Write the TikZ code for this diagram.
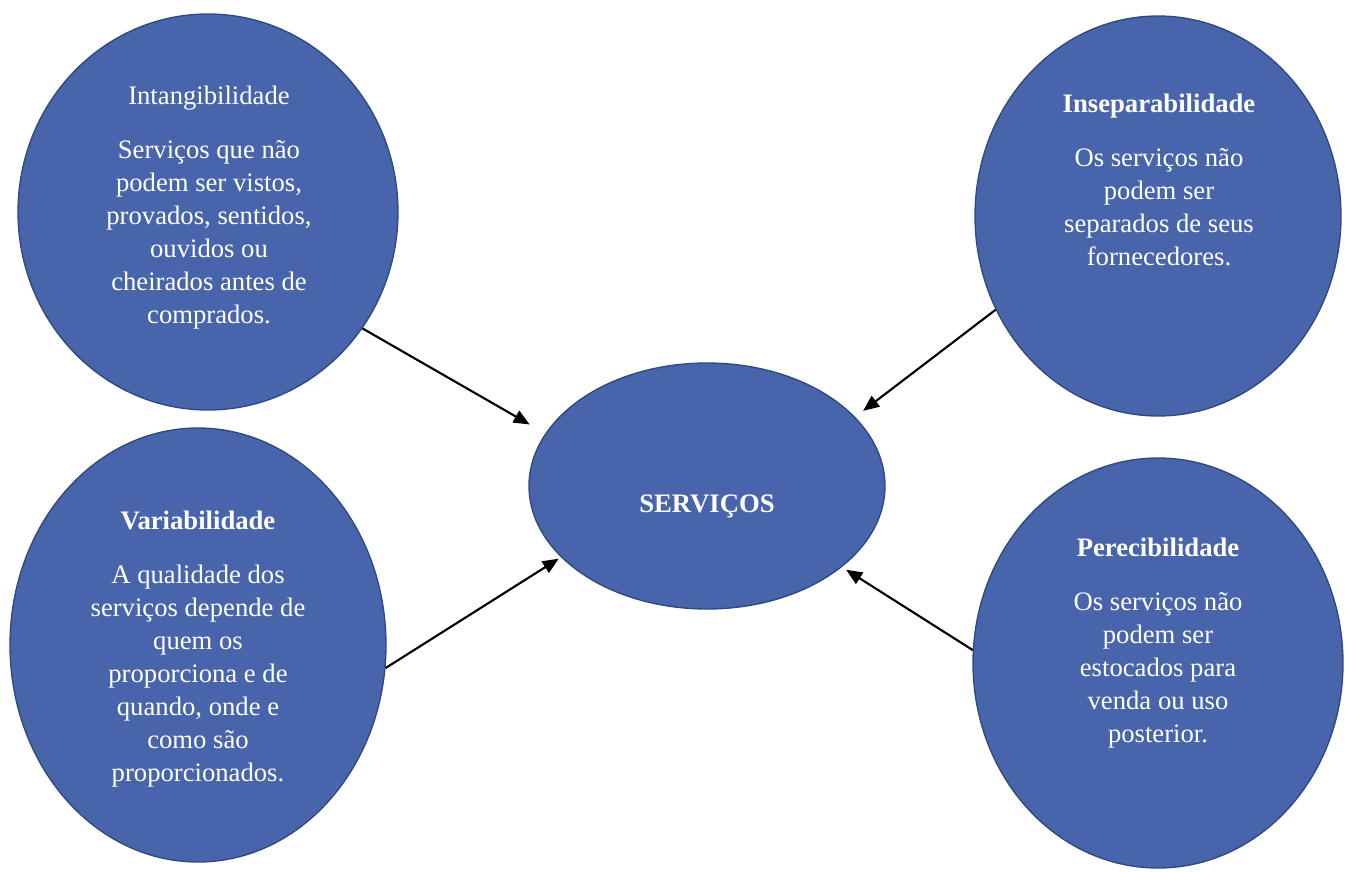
\documentclass[tikz,border=0pt]{standalone}
\usepackage{fontspec}
\setmainfont{Liberation Serif}
\usetikzlibrary{shapes.geometric}
\usetikzlibrary{arrows.meta}

\definecolor{bubblefill}{RGB}{72,101,171}
\definecolor{bubbleline}{RGB}{47,72,128}

\begin{document}
\begin{tikzpicture}[x=0.75pt, y=-0.75pt,
  bubble/.style={ellipse, draw=bubbleline, line width=1pt, fill=bubblefill, inner sep=0pt},
  txt/.style={align=center, text=white, inner sep=0pt, font=\fontsize{20pt}{24.75pt}\selectfont},
  arr/.style={line width=1.6pt, -{Triangle[length=12pt,width=10pt]}}]
\useasboundingbox (0,0) rectangle (1349,871);

\node [bubble, minimum width=285pt, minimum height=297pt] (intang) at (208,212) {};
\node [bubble, minimum width=282pt, minimum height=325.5pt] (variab) at (198,645) {};
\node [bubble, minimum width=267pt, minimum height=184.5pt] (serv) at (707,486) {};
\node [bubble, minimum width=274.5pt, minimum height=300pt] (insep) at (1158,216) {};
\node [bubble, minimum width=277.5pt, minimum height=307.5pt] (perec) at (1158,663) {};

\node [txt] (intang-txt) at (209,208) {Intangibilidade\\[15.75pt]Serviços que não\\podem ser vistos,\\provados, sentidos,\\ouvidos ou\\cheirados antes de\\comprados.};
\node [txt] (variab-txt) at (198,649.5) {\textbf{Variabilidade}\\[15.75pt]A qualidade dos\\serviços depende de\\quem os\\proporciona e de\\quando, onde e\\como são\\proporcionados.};
\node [txt] (serv-txt) at (707,506) {\textbf{SERVIÇOS}};
\node [txt] (insep-txt) at (1159,179.5) {\textbf{Inseparabilidade}\\[15.75pt]Os serviços não\\podem ser\\separados de seus\\fornecedores.};
\node [txt] (perec-txt) at (1158,643.5) {\textbf{Perecibilidade}\\[15.75pt]Os serviços não\\podem ser\\estocados para\\venda ou uso\\posterior.};

\draw[arr, shorten >=13.5pt] (intang.-37) -- (serv.162);
\draw[arr, shorten >=2pt] (variab.-7) -- (serv.206.4);
\draw[arr, shorten >=7.5pt] (insep.210.3) -- (serv.25.8);
\draw[arr, shorten >=3.75pt] (perec.176.6) -- (serv.-31.3);
\end{tikzpicture}
\end{document}
